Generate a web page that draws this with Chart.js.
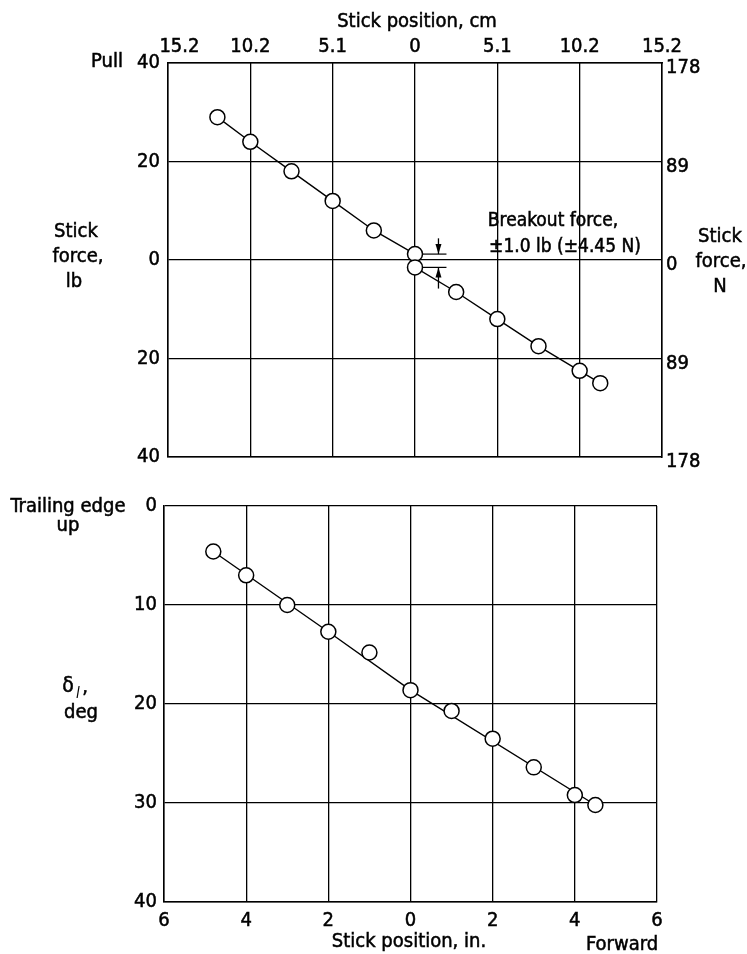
<!DOCTYPE html>
<html>
<head>
<meta charset="utf-8">
<script src="https://cdn.jsdelivr.net/npm/chart.js@4.4.1/dist/chart.umd.min.js"></script>
<style>
  html, body { margin: 0; padding: 0; background: #fff; }
  #wrap { position: relative; width: 747px; height: 954px; }
  .box { position: absolute; left: 0; width: 747px; }
</style>
</head>
<body>
<div id="wrap">
  <div class="box" style="top:0;height:480px"><canvas id="forceChart"></canvas></div>
  <div class="box" style="top:480px;height:474px"><canvas id="deflChart"></canvas></div>
</div>
<script>
// stick force vs stick position (upper panel)
const forceStickIn = [-4.8, -4, -3, -2, -1, 0, 0, 1, 2, 3, 4, 4.5];
const forceLb = [29, 24, 18, 12, 6, 1.2, -1.5, -6.5, -12, -17.5, -22.5, -25];

// aileron deflection vs stick position (lower panel)
const deflStickIn = [-4.8, -4, -3, -2, -1, 0, 1, 2, 3, 4, 4.5];
const deflDeg = [4.6, 7, 10, 12.7, 14.8, 18.6, 20.7, 23.5, 26.4, 29.2, 30.2];
// faired line
const fairStickIn = [-4.8, -2, 0, 4.5];
const fairDeg = [4.6, 12.7, 18.6, 30.2];

// breakout force marks
const breakoutLb = [1.2, -1.5];
const breakoutArrowIn = 0.57;
const breakoutTailLb = [4.4, -5.8];

// tick labels
const cmTicks = ["    15.2", "10.2", "5.1", "0", "5.1", "10.2", "15.2"];
const lbTicks = ["40", "20", "0", "20", "40"];
const newtonTicks = ["178", "89", "0", "89", "178"];
const inTicks = ["6", "4", "2", "0", "2", "4", "6"];
const degTickValues = [0, 10, 20, 30, 40];
const degTicks = ["0", "10", "20", "30", "40"];

const FONT = "'DejaVu Sans Condensed', 'Liberation Sans Narrow', 'DejaVu Sans', sans-serif";
Chart.defaults.font.family = FONT;
Chart.defaults.font.size = 20;
Chart.defaults.color = "#000";

function txt(ctx, s, x, y, size, align) {
  ctx.save();
  ctx.font = (size || 20) + "px " + FONT;
  ctx.fillStyle = "#000";
  ctx.strokeStyle = "#000";
  ctx.lineWidth = 0.5;
  ctx.textAlign = align || "center";
  ctx.textBaseline = "middle";
  ctx.fillText(s, x, y);
  ctx.strokeText(s, x, y);
  ctx.restore();
}

function arrow(ctx, x, y0, y1) {
  // shaft from y0 to y1, head at y1
  const dir = y1 > y0 ? 1 : -1;
  ctx.save();
  ctx.strokeStyle = "#000";
  ctx.fillStyle = "#000";
  ctx.lineWidth = 1.3;
  ctx.beginPath();
  ctx.moveTo(x, y0);
  ctx.lineTo(x, y1);
  ctx.stroke();
  ctx.beginPath();
  ctx.moveTo(x, y1);
  ctx.lineTo(x - 3, y1 - dir * 10);
  ctx.lineTo(x + 3, y1 - dir * 10);
  ctx.closePath();
  ctx.fill();
  ctx.restore();
}

const forceText = {
  id: "forceText",
  afterDraw(chart) {
    const ctx = chart.ctx;
    const xs = chart.scales.x, ys = chart.scales.y;
    txt(ctx, "Stick position, cm", 417, 22, 20);
    txt(ctx, "Pull", 107, 62, 20);
    txt(ctx, "Stick", 76, 232, 20);
    txt(ctx, "force,", 78, 257, 20);
    txt(ctx, "lb", 74, 282, 20);
    txt(ctx, "Stick", 720, 237, 20);
    txt(ctx, "force,", 721, 262, 20);
    txt(ctx, "N", 720, 287, 20);

    // breakout dimension marks
    const ax = xs.getPixelForValue(breakoutArrowIn);
    ctx.save();
    ctx.strokeStyle = "#000";
    ctx.lineWidth = 1.2;
    breakoutLb.forEach(v => {
      const py = ys.getPixelForValue(v);
      ctx.beginPath();
      ctx.moveTo(xs.getPixelForValue(0) + 8, py);
      ctx.lineTo(ax + 8, py);
      ctx.stroke();
    });
    ctx.restore();
    arrow(ctx, ax, ys.getPixelForValue(breakoutTailLb[0]), ys.getPixelForValue(breakoutLb[0]));
    arrow(ctx, ax, ys.getPixelForValue(breakoutTailLb[1]), ys.getPixelForValue(breakoutLb[1]));

    txt(ctx, "Breakout force,", 553, 221, 19);
    txt(ctx, "\u00b11.0 lb (\u00b14.45 N)", 565, 247, 19);
  }
};

const deflText = {
  id: "deflText",
  afterDraw(chart) {
    const ctx = chart.ctx;
    txt(ctx, "Trailing edge", 68, 27, 20);
    txt(ctx, "up", 68, 46, 20);
    txt(ctx, "\u03b4", 68, 207, 21);
    ctx.save();
    ctx.font = "italic 15px " + FONT;
    ctx.textBaseline = "middle";
    ctx.fillText("l", 76, 214);
    ctx.restore();
    txt(ctx, ",", 85, 208, 20);
    txt(ctx, "deg", 81, 233, 20);
    txt(ctx, "Stick position, in.", 409, 462, 20);
    txt(ctx, "Forward", 622, 465, 20);
  }
};

const gridStyle = { color: "#000", lineWidth: 1.3, drawTicks: false };
const borderStyle = { color: "#000", width: 1.5 };
const tickInk = { textStrokeColor: "#000", textStrokeWidth: 0.5 };

new Chart(document.getElementById("forceChart"), {
  type: "scatter",
  data: {
    datasets: [{
      data: forceStickIn.map((x, i) => ({ x: x, y: forceLb[i] })),
      showLine: true,
      borderColor: "#000",
      borderWidth: 1.4,
      pointRadius: 7.5,
      pointBackgroundColor: "#fff",
      pointBorderColor: "#000",
      pointBorderWidth: 1.5,
      xAxisID: "x",
      yAxisID: "y"
    }]
  },
  options: {
    responsive: true,
    maintainAspectRatio: false,
    animation: false,
    layout: { padding: 0 },
    plugins: { legend: { display: false }, tooltip: { enabled: false } },
    scales: {
      x: {
        type: "linear", position: "bottom", min: -6, max: 6,
        ticks: { stepSize: 2, display: false },
        grid: gridStyle, border: borderStyle,
        afterFit: s => { s.height = 23; }
      },
      xTop: {
        type: "linear", position: "top", min: -6, max: 6,
        ticks: { ...tickInk, stepSize: 2, padding: 4, callback: (v, i) => cmTicks[i] },
        grid: { display: false, drawTicks: false }, border: borderStyle,
        afterFit: s => { s.height = 63; }
      },
      y: {
        type: "linear", position: "left", min: -40, max: 40,
        ticks: { ...tickInk, stepSize: 20, padding: 8, callback: (v, i) => lbTicks[i] },
        grid: gridStyle, border: borderStyle,
        afterFit: s => { s.width = 168; }
      },
      yR: {
        type: "linear", position: "right", min: -40, max: 40,
        ticks: { ...tickInk, stepSize: 20, padding: 4, labelOffset: 5, callback: (v, i) => newtonTicks[i] },
        grid: { display: false, drawTicks: false }, border: borderStyle,
        afterFit: s => { s.width = 85; }
      }
    }
  },
  plugins: [forceText]
});

new Chart(document.getElementById("deflChart"), {
  type: "scatter",
  data: {
    datasets: [
      {
        data: deflStickIn.map((x, i) => ({ x: x, y: deflDeg[i] })),
        showLine: false,
        pointRadius: 7.5,
        pointBackgroundColor: "#fff",
        pointBorderColor: "#000",
        pointBorderWidth: 1.5
      },
      {
        data: fairStickIn.map((x, i) => ({ x: x, y: fairDeg[i] })),
        showLine: true,
        borderColor: "#000",
        borderWidth: 1.4,
        pointRadius: 0
      }
    ]
  },
  options: {
    responsive: true,
    maintainAspectRatio: false,
    animation: false,
    layout: { padding: { top: 26, right: 90, left: 0, bottom: 0 } },
    plugins: { legend: { display: false }, tooltip: { enabled: false } },
    scales: {
      x: {
        type: "linear", position: "bottom", min: -6, max: 6,
        ticks: { ...tickInk, stepSize: 2, padding: 7, callback: (v, i) => inTicks[i] },
        grid: gridStyle, border: borderStyle,
        afterFit: s => { s.height = 52; }
      },
      y: {
        type: "linear", position: "left", min: 0, max: 40, reverse: true,
        ticks: { ...tickInk, stepSize: 10, padding: 7, callback: v => degTicks[degTickValues.indexOf(v)] },
        grid: gridStyle, border: borderStyle,
        afterFit: s => { s.width = 164; }
      }
    }
  },
  plugins: [deflText]
});
</script>
</body>
</html>
